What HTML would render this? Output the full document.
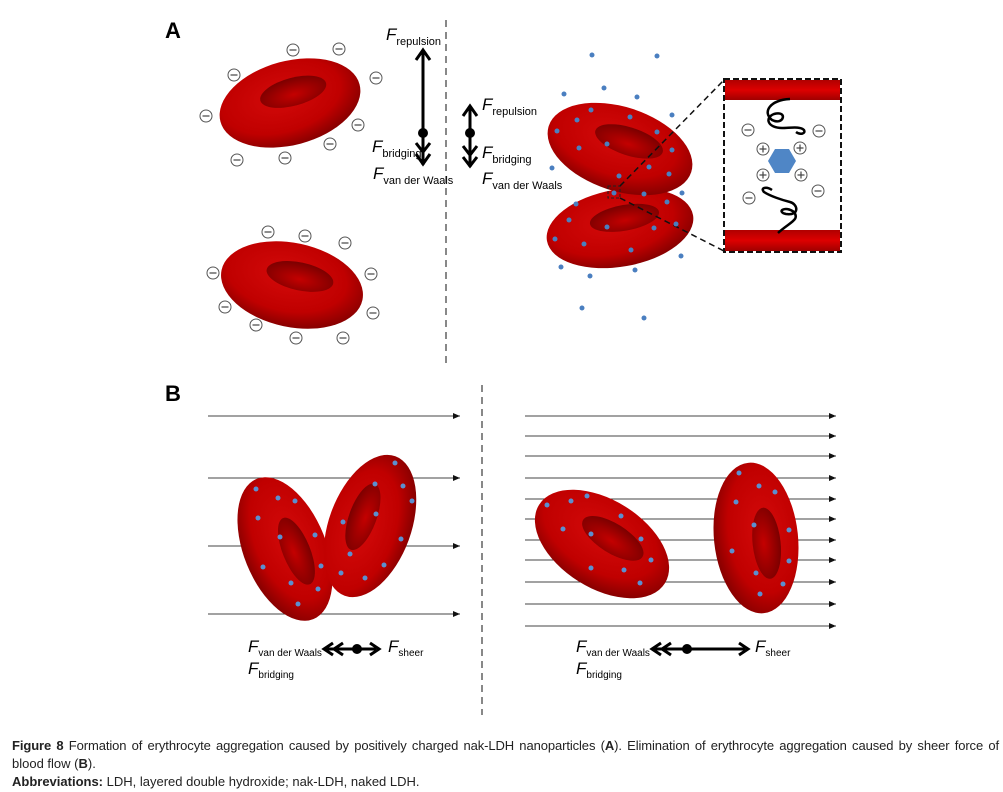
<!DOCTYPE html>
<html><head><meta charset="utf-8"><style>
body{margin:0;background:#fff;width:1003px;height:792px;overflow:hidden;position:relative;font-family:"Liberation Sans",sans-serif}
.cap{position:absolute;left:12px;width:987px;font-size:13px;color:#222;line-height:18px}
</style></head><body>
<svg width="1003" height="730" style="position:absolute;left:0;top:0" font-family="Liberation Sans, sans-serif">
<defs>
<radialGradient id="rb" cx="45%" cy="40%" r="60%"><stop offset="0" stop-color="#d40a0a"/><stop offset="0.7" stop-color="#c00000"/><stop offset="1" stop-color="#8a0000"/></radialGradient>
<radialGradient id="dp" cx="50%" cy="60%" r="60%"><stop offset="0" stop-color="#c40000"/><stop offset="1" stop-color="#7a0000"/></radialGradient>
<linearGradient id="bar" x1="0" y1="0" x2="0" y2="1"><stop offset="0" stop-color="#b00000"/><stop offset="0.5" stop-color="#d00"/><stop offset="1" stop-color="#a00000"/></linearGradient>
<g id="cell"><ellipse rx="72" ry="42" fill="url(#rb)"/><ellipse cx="6" cy="-10" rx="34" ry="14" fill="url(#dp)"/></g>
<g id="mn"><circle r="6" fill="#fff" stroke="#555" stroke-width="1"/><line x1="-3.5" x2="3.5" stroke="#444" stroke-width="1.2"/></g>
<g id="pl"><circle r="6" fill="#fff" stroke="#555" stroke-width="1"/><line x1="-3.5" x2="3.5" stroke="#444" stroke-width="1.2"/><line y1="-3.5" y2="3.5" stroke="#444" stroke-width="1.2"/></g>
<marker id="ah" markerWidth="8" markerHeight="8" refX="7" refY="4" orient="auto" markerUnits="userSpaceOnUse"><path d="M0,1 L7,4 L0,7Z" fill="#111"/></marker>
</defs>
<text x="165" y="38" font-size="22" font-weight="bold">A</text>
<text x="165" y="401" font-size="22" font-weight="bold">B</text>
<line x1="446" y1="20" x2="446" y2="365" stroke="#888" stroke-width="2" stroke-dasharray="7,5"/>
<line x1="482" y1="385" x2="482" y2="715" stroke="#888" stroke-width="2" stroke-dasharray="7,5"/>
<use href="#cell" transform="translate(290,103) rotate(-15)"/>
<use href="#cell" transform="translate(292,285) rotate(12)"/>
<g>
<use href="#mn" x="293" y="50"/><use href="#mn" x="339" y="49"/><use href="#mn" x="234" y="75"/><use href="#mn" x="376" y="78"/><use href="#mn" x="206" y="116"/><use href="#mn" x="358" y="125"/><use href="#mn" x="330" y="144"/><use href="#mn" x="237" y="160"/><use href="#mn" x="285" y="158"/>
<use href="#mn" x="268" y="232"/><use href="#mn" x="305" y="236"/><use href="#mn" x="345" y="243"/><use href="#mn" x="213" y="273"/><use href="#mn" x="371" y="274"/><use href="#mn" x="225" y="307"/><use href="#mn" x="373" y="313"/><use href="#mn" x="256" y="325"/><use href="#mn" x="296" y="338"/><use href="#mn" x="343" y="338"/>
</g>
<g stroke="#000" stroke-width="3" fill="none">
<line x1="423" y1="52" x2="423" y2="165"/><path d="M416,60 L423,50 L430,60"/><path d="M416,143 L423,152 L430,143"/><path d="M416,154 L423,164 L430,154"/>
<line x1="470" y1="108" x2="470" y2="167"/><path d="M463,116 L470,106 L477,116"/><path d="M463,146 L470,155 L477,146"/><path d="M463,157 L470,166 L477,157"/>
</g>
<circle cx="423" cy="133" r="5"/><circle cx="470" cy="133" r="5"/>
<g font-size="11"><text x="386" y="40"><tspan font-size="17" font-style="italic">F</tspan><tspan dy="5">repulsion</tspan></text>
<text x="372" y="152"><tspan font-size="17" font-style="italic">F</tspan><tspan dy="5">bridging</tspan></text>
<text x="373" y="179"><tspan font-size="17" font-style="italic">F</tspan><tspan dy="5">van der Waals</tspan></text>
<text x="482" y="110"><tspan font-size="17" font-style="italic">F</tspan><tspan dy="5">repulsion</tspan></text>
<text x="482" y="158"><tspan font-size="17" font-style="italic">F</tspan><tspan dy="5">bridging</tspan></text>
<text x="482" y="184"><tspan font-size="17" font-style="italic">F</tspan><tspan dy="5">van der Waals</tspan></text></g>
<use href="#cell" transform="translate(620,228) rotate(-10) scale(1.03,0.92)"/>
<use href="#cell" transform="translate(620,149) rotate(18) scale(1.04,1)"/>
<rect x="608" y="186" width="12" height="12" fill="none" stroke="#222" stroke-dasharray="3,2"/>
<line x1="620" y1="186" x2="724" y2="80" stroke="#111" stroke-width="1.5" stroke-dasharray="6,4"/>
<line x1="620" y1="198" x2="724" y2="251" stroke="#111" stroke-width="1.5" stroke-dasharray="6,4"/>
<rect x="724" y="79" width="117" height="173" fill="#fff" stroke="#111" stroke-width="2" stroke-dasharray="6,3"/>
<rect x="725" y="80" width="115" height="20" fill="url(#bar)"/>
<rect x="725" y="230" width="115" height="21" fill="url(#bar)"/>
<path d="M790,99 C770,100 762,112 772,120 C784,126 788,110 774,114 C764,118 768,128 782,128 C790,128 800,126 804,130 C806,134 800,135 796,132" fill="none" stroke="#000" stroke-width="2.5"/>
<path d="M778,233 C790,222 800,220 794,212 C785,205 776,212 786,214 C800,216 798,204 790,202 C782,200 770,196 764,192 C760,188 766,186 772,190" fill="none" stroke="#000" stroke-width="2.5"/>
<polygon points="768,161 775,149 789,149 796,161 789,173 775,173" fill="#4f86c6"/>
<use href="#pl" x="763" y="149"/><use href="#pl" x="800" y="148"/><use href="#pl" x="763" y="175"/><use href="#pl" x="801" y="175"/>
<use href="#mn" x="748" y="130"/><use href="#mn" x="819" y="131"/><use href="#mn" x="749" y="198"/><use href="#mn" x="818" y="191"/>
<g fill="#4a7fc0">
<circle cx="592" cy="55" r="2.5"/><circle cx="657" cy="56" r="2.5"/><circle cx="564" cy="94" r="2.5"/><circle cx="604" cy="88" r="2.5"/><circle cx="637" cy="97" r="2.5"/><circle cx="672" cy="115" r="2.5"/><circle cx="552" cy="168" r="2.5"/><circle cx="682" cy="193" r="2.5"/><circle cx="681" cy="256" r="2.5"/><circle cx="561" cy="267" r="2.5"/><circle cx="590" cy="276" r="2.5"/><circle cx="635" cy="270" r="2.5"/><circle cx="582" cy="308" r="2.5"/><circle cx="644" cy="318" r="2.5"/>
<circle cx="591" cy="110" r="2.5"/><circle cx="577" cy="120" r="2.5"/><circle cx="557" cy="131" r="2.5"/><circle cx="630" cy="117" r="2.5"/><circle cx="657" cy="132" r="2.5"/><circle cx="607" cy="144" r="2.5"/><circle cx="579" cy="148" r="2.5"/><circle cx="672" cy="150" r="2.5"/><circle cx="649" cy="167" r="2.5"/><circle cx="669" cy="174" r="2.5"/><circle cx="619" cy="176" r="2.5"/><circle cx="614" cy="193" r="2.5"/><circle cx="644" cy="194" r="2.5"/><circle cx="667" cy="202" r="2.5"/><circle cx="576" cy="204" r="2.5"/><circle cx="569" cy="220" r="2.5"/><circle cx="607" cy="227" r="2.5"/><circle cx="654" cy="228" r="2.5"/><circle cx="676" cy="224" r="2.5"/><circle cx="555" cy="239" r="2.5"/><circle cx="584" cy="244" r="2.5"/><circle cx="631" cy="250" r="2.5"/>
</g>
<g stroke="#444" stroke-width="1" marker-end="url(#ah)">
<line x1="208" y1="416" x2="460" y2="416"/><line x1="208" y1="478" x2="460" y2="478"/><line x1="208" y1="546" x2="460" y2="546"/><line x1="208" y1="614" x2="460" y2="614"/>
<line x1="525" y1="416" x2="836" y2="416"/><line x1="525" y1="436" x2="836" y2="436"/><line x1="525" y1="456" x2="836" y2="456"/><line x1="525" y1="478" x2="836" y2="478"/><line x1="525" y1="499" x2="836" y2="499"/><line x1="525" y1="519" x2="836" y2="519"/><line x1="525" y1="540" x2="836" y2="540"/><line x1="525" y1="560" x2="836" y2="560"/><line x1="525" y1="582" x2="836" y2="582"/><line x1="525" y1="604" x2="836" y2="604"/><line x1="525" y1="626" x2="836" y2="626"/>
</g>
<use href="#cell" transform="translate(285,549) rotate(68) scale(1.05,0.98)"/>
<use href="#cell" transform="translate(370,526) rotate(-70) scale(1.03,0.98)"/>
<use href="#cell" transform="translate(602,544) rotate(32) scale(1.03,1.05)"/>
<use href="#cell" transform="translate(756,538) rotate(84) scale(1.05,1)"/>
<g fill="#5b8fd0">
<circle cx="256" cy="489" r="2.5"/><circle cx="278" cy="498" r="2.5"/><circle cx="295" cy="501" r="2.5"/><circle cx="258" cy="518" r="2.5"/><circle cx="280" cy="537" r="2.5"/><circle cx="315" cy="535" r="2.5"/><circle cx="263" cy="567" r="2.5"/><circle cx="291" cy="583" r="2.5"/><circle cx="318" cy="589" r="2.5"/><circle cx="298" cy="604" r="2.5"/><circle cx="321" cy="566" r="2.5"/>
<circle cx="395" cy="463" r="2.5"/><circle cx="375" cy="484" r="2.5"/><circle cx="403" cy="486" r="2.5"/><circle cx="412" cy="501" r="2.5"/><circle cx="376" cy="514" r="2.5"/><circle cx="343" cy="522" r="2.5"/><circle cx="401" cy="539" r="2.5"/><circle cx="350" cy="554" r="2.5"/><circle cx="384" cy="565" r="2.5"/><circle cx="341" cy="573" r="2.5"/><circle cx="365" cy="578" r="2.5"/>
<circle cx="547" cy="505" r="2.5"/><circle cx="571" cy="501" r="2.5"/><circle cx="587" cy="496" r="2.5"/><circle cx="621" cy="516" r="2.5"/><circle cx="563" cy="529" r="2.5"/><circle cx="591" cy="534" r="2.5"/><circle cx="641" cy="539" r="2.5"/><circle cx="651" cy="560" r="2.5"/><circle cx="591" cy="568" r="2.5"/><circle cx="624" cy="570" r="2.5"/><circle cx="640" cy="583" r="2.5"/>
<circle cx="739" cy="473" r="2.5"/><circle cx="759" cy="486" r="2.5"/><circle cx="775" cy="492" r="2.5"/><circle cx="736" cy="502" r="2.5"/><circle cx="754" cy="525" r="2.5"/><circle cx="789" cy="530" r="2.5"/><circle cx="732" cy="551" r="2.5"/><circle cx="789" cy="561" r="2.5"/><circle cx="756" cy="573" r="2.5"/><circle cx="783" cy="584" r="2.5"/><circle cx="760" cy="594" r="2.5"/>
</g>
<g stroke="#000" stroke-width="3" fill="none">
<path d="M333,643 L324,649 L333,655"/><path d="M343,643 L334,649 L343,655"/><line x1="326" y1="649" x2="376" y2="649"/><path d="M370,643 L379,649 L370,655"/>
<path d="M661,643 L652,649 L661,655"/><path d="M671,643 L662,649 L671,655"/><line x1="654" y1="649" x2="745" y2="649"/><path d="M739,643 L748,649 L739,655"/>
</g>
<circle cx="357" cy="649" r="5"/><circle cx="687" cy="649" r="5"/>
<g font-size="10"><text x="248" y="652"><tspan font-size="17" font-style="italic">F</tspan><tspan dy="4">van der Waals</tspan></text>
<text x="388" y="652"><tspan font-size="17" font-style="italic">F</tspan><tspan dy="4">sheer</tspan></text>
<text x="248" y="674"><tspan font-size="17" font-style="italic">F</tspan><tspan dy="4">bridging</tspan></text>
<text x="576" y="652"><tspan font-size="17" font-style="italic">F</tspan><tspan dy="4">van der Waals</tspan></text>
<text x="755" y="652"><tspan font-size="17" font-style="italic">F</tspan><tspan dy="4">sheer</tspan></text>
<text x="576" y="674"><tspan font-size="17" font-style="italic">F</tspan><tspan dy="4">bridging</tspan></text></g>
</svg>
<div class="cap" style="top:737px;text-align:justify;text-align-last:justify;white-space:nowrap;letter-spacing:-0.1px"><b>Figure 8</b> Formation of erythrocyte aggregation caused by positively charged nak-LDH nanoparticles (<b>A</b>). Elimination of erythrocyte aggregation caused by sheer force of</div>
<div class="cap" style="top:755px">blood flow (<b>B</b>).</div>
<div class="cap" style="top:773px"><b>Abbreviations:</b> LDH, layered double hydroxide; nak-LDH, naked LDH.</div>
</body></html>
